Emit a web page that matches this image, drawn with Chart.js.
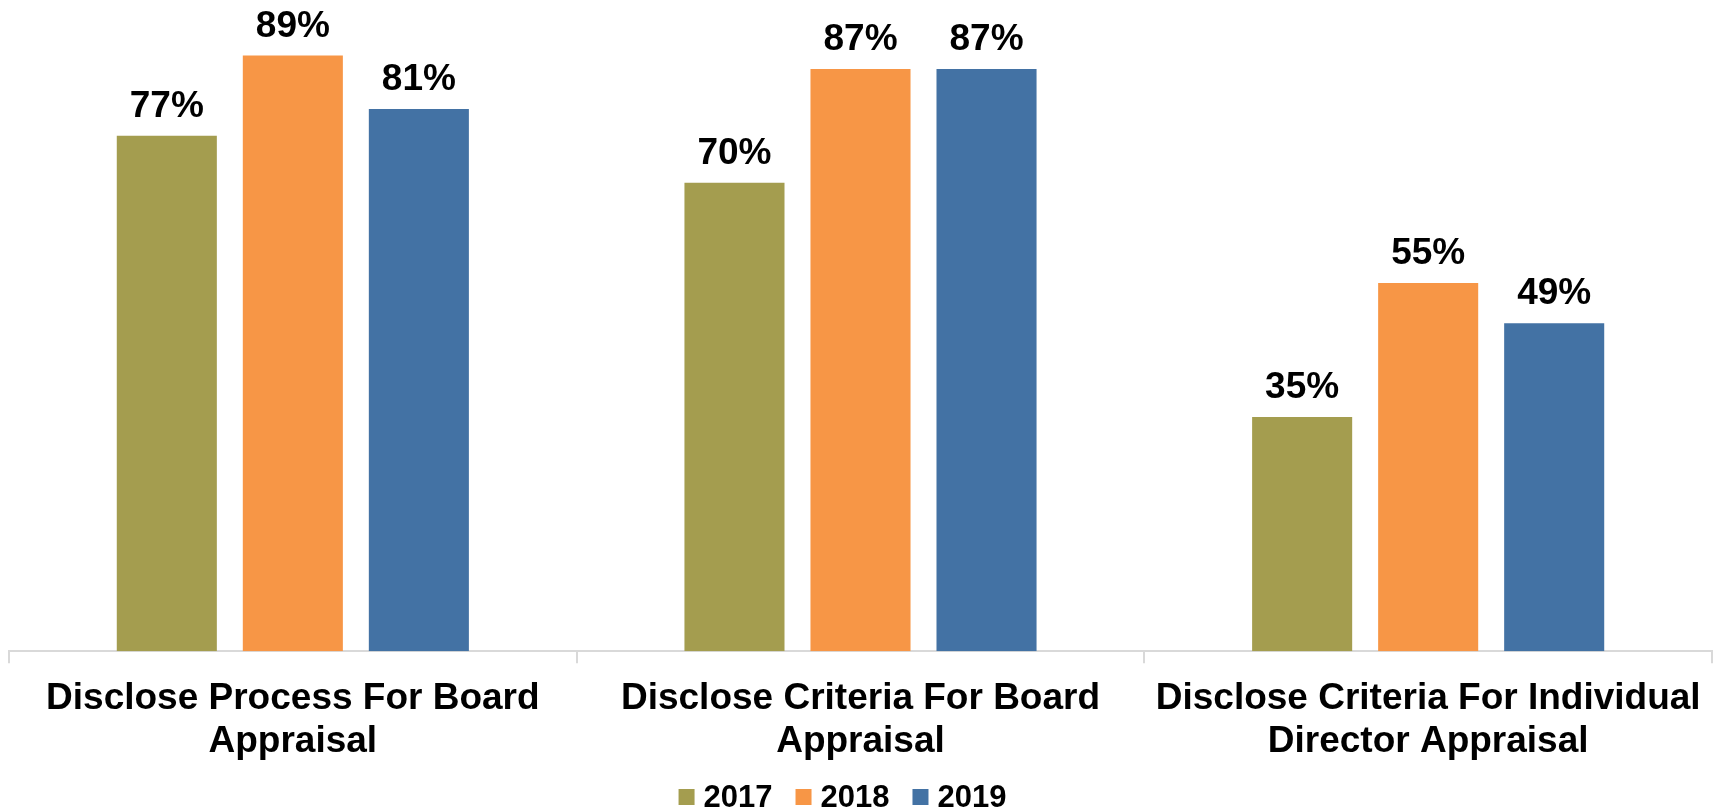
<!DOCTYPE html>
<html>
<head>
<meta charset="utf-8">
<script src="https://cdn.jsdelivr.net/npm/chart.js@4/dist/chart.umd.min.js"></script>
<style>
    body { margin: 0; background: #ffffff; }
    #wrap { width: 1721px; height: 809px; }
</style>
</head>
<body>
<div id="wrap"><canvas id="appraisalChart" width="1721" height="809"></canvas></div>
<script>
// Chart data
const categories = [
    ['Disclose Process For Board', 'Appraisal'],
    ['Disclose Criteria For Board', 'Appraisal'],
    ['Disclose Criteria For Individual', 'Director Appraisal']
];
const seriesNames = ['2017', '2018', '2019'];
const values2017 = [77, 70, 35];
const values2018 = [89, 87, 55];
const values2019 = [81, 87, 49];
const seriesColors = ['#a49d4f', '#f79646', '#4372a4'];

const FONT = "'Liberation Sans', Arial, Helvetica, sans-serif";

// Value labels above each bar
const barLabels = {
    id: 'barLabels',
    afterDatasetsDraw(chart) {
        const ctx = chart.ctx;
        ctx.save();
        ctx.font = 'bold 37px ' + FONT;
        ctx.fillStyle = '#000000';
        ctx.textAlign = 'center';
        ctx.textBaseline = 'alphabetic';
        chart.data.datasets.forEach((ds, i) => {
            chart.getDatasetMeta(i).data.forEach((bar, j) => {
                ctx.fillText(ds.data[j] + '%', bar.x, bar.y - 19);
            });
        });
        ctx.restore();
    }
};

// Legend drawn at the bottom, square swatches
const bottomLegend = {
    id: 'bottomLegend',
    afterDraw(chart) {
        const ctx = chart.ctx;
        const box = 16, gap = 9, itemGap = 23;
        ctx.save();
        ctx.font = 'bold 31px ' + FONT;
        ctx.textBaseline = 'alphabetic';
        const widths = chart.data.datasets.map(ds => ctx.measureText(ds.label).width);
        let total = 0;
        widths.forEach(w => { total += box + gap + w; });
        total += itemGap * (widths.length - 1);
        const center = (chart.chartArea.left + chart.chartArea.right) / 2 - 18;
        let x = center - total / 2;
        const baseY = chart.height - 2;
        chart.data.datasets.forEach((ds, i) => {
            ctx.fillStyle = ds.backgroundColor;
            ctx.fillRect(x, baseY - 18, box, box);
            ctx.fillStyle = '#000000';
            ctx.fillText(ds.label, x + box + gap, baseY);
            x += box + gap + widths[i] + itemGap;
        });
        ctx.restore();
    }
};

document.addEventListener('DOMContentLoaded', function() {
    const ctx = document.getElementById('appraisalChart').getContext('2d');
    const allValues = [values2017, values2018, values2019];

    new Chart(ctx, {
        type: 'bar',
        data: {
            labels: categories,
            datasets: seriesNames.map((name, i) => ({
                label: name,
                data: allValues[i],
                backgroundColor: seriesColors[i],
                borderWidth: 0,
                categoryPercentage: 0.666,
                barPercentage: 0.794
            }))
        },
        options: {
            responsive: false,
            animation: false,
            layout: {
                padding: { left: 9, right: 9, top: 2, bottom: 32 }
            },
            plugins: {
                legend: { display: false },
                tooltip: { enabled: false }
            },
            scales: {
                x: {
                    grid: {
                        drawOnChartArea: false,
                        drawTicks: true,
                        tickLength: 12,
                        color: '#d9d9d9',
                        lineWidth: 2
                    },
                    border: { color: '#d9d9d9', width: 2 },
                    ticks: {
                        color: '#000000',
                        padding: 14,
                        maxRotation: 0,
                        autoSkip: false,
                        font: { family: FONT, size: 37, weight: 'bold', lineHeight: 1.16 }
                    }
                },
                y: {
                    display: false,
                    min: 0,
                    max: 97
                }
            }
        },
        plugins: [barLabels, bottomLegend]
    });
});
</script>
</body>
</html>
